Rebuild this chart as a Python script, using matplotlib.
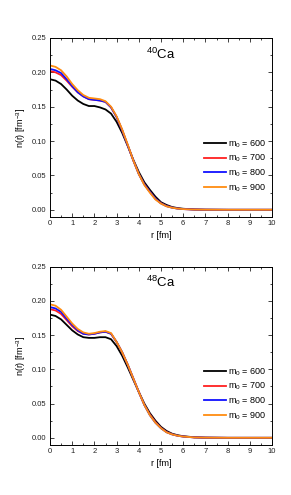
import matplotlib
matplotlib.use("Agg")
import matplotlib.pyplot as plt
from matplotlib.ticker import MultipleLocator

plt.rcParams['font.family'] = ['Liberation Sans', 'DejaVu Sans']
plt.rcParams['mathtext.fontset'] = 'custom'
plt.rcParams['mathtext.rm'] = 'Liberation Sans'
plt.rcParams['mathtext.it'] = 'Liberation Sans:italic'
plt.rcParams['mathtext.bf'] = 'Liberation Sans:bold'

r = [0, 0.25, 0.5, 0.75, 1.0, 1.25, 1.5, 1.75, 2.0, 2.25, 2.5, 2.75, 3.0, 3.25,
     3.5, 3.75, 4.0, 4.25, 4.5, 4.75, 5.0, 5.25, 5.5, 5.75, 6.0, 6.5, 7.0, 8.0, 10.0]

masses = [600, 700, 800, 900]
colors = ['black', '#ff2020', '#1010ff', '#ff8c10']

# 40Ca densities
ca40_600 = [0.190, 0.188, 0.183, 0.175, 0.166, 0.159, 0.154, 0.151, 0.151, 0.149, 0.146,
            0.140, 0.128, 0.112, 0.093, 0.073, 0.055, 0.040, 0.029, 0.019, 0.011, 0.007,
            0.004, 0.0025, 0.0015, 0.0005, 0.0002, 0.0, 0.0]
ca40_700 = [0.202, 0.200, 0.196, 0.188, 0.179, 0.171, 0.165, 0.161, 0.160, 0.159, 0.157,
            0.149, 0.135, 0.116, 0.094, 0.072, 0.052, 0.037, 0.026, 0.016, 0.0095, 0.0055,
            0.0032, 0.0018, 0.0011, 0.0004, 0.0001, 0.0, 0.0]
ca40_800 = [0.205, 0.203, 0.199, 0.190, 0.180, 0.171, 0.165, 0.161, 0.160, 0.159, 0.157,
            0.149, 0.135, 0.116, 0.094, 0.072, 0.052, 0.037, 0.026, 0.016, 0.0093, 0.0053,
            0.0031, 0.0017, 0.0010, 0.0003, 0.0001, 0.0, 0.0]
ca40_900 = [0.210, 0.208, 0.203, 0.194, 0.183, 0.174, 0.167, 0.163, 0.162, 0.161, 0.158,
            0.150, 0.136, 0.117, 0.095, 0.072, 0.052, 0.036, 0.025, 0.015, 0.009, 0.005,
            0.003, 0.0017, 0.001, 0.0003, 0.0001, 0.0, 0.0]

# 48Ca densities
ca48_600 = [0.180, 0.178, 0.173, 0.165, 0.157, 0.151, 0.147, 0.146, 0.146, 0.147, 0.147,
            0.144, 0.134, 0.120, 0.103, 0.085, 0.067, 0.050, 0.036, 0.025, 0.016, 0.010,
            0.006, 0.0038, 0.0023, 0.0008, 0.0003, 0.0, 0.0]
ca48_700 = [0.188, 0.186, 0.181, 0.172, 0.163, 0.156, 0.152, 0.151, 0.152, 0.154, 0.155,
            0.152, 0.140, 0.125, 0.107, 0.087, 0.067, 0.048, 0.034, 0.023, 0.0145, 0.0085,
            0.0052, 0.0031, 0.0019, 0.0006, 0.0002, 0.0, 0.0]
ca48_800 = [0.191, 0.189, 0.184, 0.174, 0.165, 0.157, 0.152, 0.151, 0.152, 0.154, 0.155,
            0.152, 0.140, 0.125, 0.107, 0.087, 0.067, 0.048, 0.033, 0.022, 0.014, 0.0082,
            0.005, 0.003, 0.0018, 0.0006, 0.0002, 0.0, 0.0]
ca48_900 = [0.195, 0.193, 0.187, 0.177, 0.167, 0.159, 0.154, 0.152, 0.153, 0.155, 0.156,
            0.153, 0.140, 0.125, 0.107, 0.087, 0.067, 0.048, 0.033, 0.022, 0.014, 0.008,
            0.005, 0.003, 0.0018, 0.0006, 0.0002, 0.0, 0.0]

panels = [
    (r'$^{40}$Ca', [ca40_600, ca40_700, ca40_800, ca40_900]),
    (r'$^{48}$Ca', [ca48_600, ca48_700, ca48_800, ca48_900]),
]

fig = plt.figure(figsize=(2.91, 4.95), dpi=100)
rects = [[50/291, 1 - 217/495, 222/291, 179/495],
         [50/291, 1 - 445/495, 222/291, 178.3/495]]

for rect, (title, series) in zip(rects, panels):
    ax = fig.add_axes(rect)
    for m, c, y in zip(masses, colors, series):
        ax.plot(r, y, color=c, lw=1.3, label=r'm$_0$ = %d' % m)
    ax.set_xlim(0, 10)
    ax.set_ylim(-0.0105, 0.25)
    ax.xaxis.set_major_locator(MultipleLocator(1))
    ax.xaxis.set_minor_locator(MultipleLocator(0.5))
    ax.yaxis.set_major_locator(MultipleLocator(0.05))
    ax.yaxis.set_minor_locator(MultipleLocator(0.025))
    ax.yaxis.set_major_formatter(matplotlib.ticker.FormatStrFormatter('%.2f'))
    ax.tick_params(which='both', direction='in', top=True, right=True,
                   labelsize=5.5, width=0.6, pad=2.5, colors='#222222')
    ax.tick_params(which='major', length=2.8)
    ax.tick_params(which='minor', length=1.6)
    for s in ax.spines.values():
        s.set_linewidth(0.7)
    ax.set_xlabel('r [fm]', fontsize=6.5, labelpad=2.5)
    ax.set_ylabel(r'n(r) [fm$^{-3}$]', fontsize=6.5, labelpad=3)
    ax.text(0.5, 0.91, title, transform=ax.transAxes, ha='center', va='center',
            fontsize=9.5)
    ax.legend(loc='lower right', bbox_to_anchor=(1.0, 0.1), frameon=False,
              fontsize=6.5, handlelength=2.4, handletextpad=0.3,
              labelspacing=0.35, borderaxespad=0.2)

fig.savefig('out.png', dpi=100)
